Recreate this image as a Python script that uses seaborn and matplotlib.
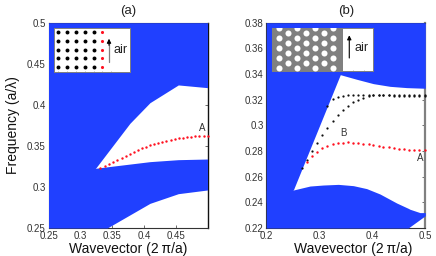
import matplotlib
matplotlib.use("Agg")
import matplotlib.pyplot as plt
import seaborn as sns

# panel (a) band edges
a_up_x = [0.25, 0.324, 0.378, 0.4095, 0.4541, 0.5]
a_up_low = [0.30, 0.3227, 0.3775, 0.4026, 0.4242, 0.4209]
a_low_x = [0.25, 0.324, 0.3423, 0.4095, 0.4541, 0.5]
a_low_top = [0.3227, 0.3227, 0.3245, 0.3308, 0.3332, 0.334]
a_low_bot = [0.25, 0.25, 0.25, 0.28, 0.2918, 0.2963]

a_red_x = [0.3313, 0.3381, 0.3449, 0.3518, 0.3581, 0.3649, 0.3712, 0.378, 0.3843, 0.3911, 0.3974, 0.4032, 0.4095, 0.4158,
           0.4226, 0.4289, 0.4352, 0.4421, 0.4484, 0.4552, 0.462, 0.4683, 0.4741, 0.4809, 0.4872, 0.494, 0.5]
a_red_y = [0.3235, 0.3255, 0.3284, 0.3308, 0.3332, 0.3357, 0.3381, 0.3405, 0.343, 0.345, 0.347, 0.3491, 0.3507, 0.3523,
           0.3535, 0.3552, 0.356, 0.3572, 0.358, 0.3592, 0.36, 0.3608, 0.3612, 0.3616, 0.3621, 0.3621, 0.3625]

# panel (b) band edges
b_up_x = [0.2, 0.251, 0.3396, 0.3706, 0.402, 0.4334, 0.4649, 0.5]
b_up_low = [0.24, 0.2496, 0.3395, 0.3359, 0.3325, 0.3304, 0.3294, 0.3289]
b_low_x = [0.2, 0.251, 0.2824, 0.3076, 0.3359, 0.3642, 0.3893, 0.4145, 0.4459, 0.4679, 0.4711, 0.4899, 0.5]
b_low_top = [0.2496, 0.2496, 0.2527, 0.2535, 0.254, 0.253, 0.2507, 0.2465, 0.2395, 0.2353, 0.2346, 0.232, 0.232]
b_low_bot = [0.22, 0.22, 0.22, 0.22, 0.22, 0.22, 0.22, 0.22, 0.22, 0.22, 0.221, 0.2266, 0.2296]

b_x = [0.267, 0.277, 0.286, 0.296, 0.306, 0.315, 0.325, 0.335, 0.344, 0.354, 0.364, 0.373, 0.383,
       0.393, 0.402, 0.412, 0.421, 0.431, 0.441, 0.45, 0.46, 0.47, 0.479, 0.489, 0.5]
b_black1 = [0.2665, 0.273, 0.2798, 0.286, 0.2925, 0.2982, 0.3034, 0.3081, 0.312, 0.3154, 0.318, 0.32, 0.3216,
            0.3226, 0.3234, 0.3237, 0.3239, 0.3239, 0.3239, 0.3239, 0.3239, 0.3239, 0.3239, 0.3239, 0.3239]
b_black2 = [0.3154, 0.3203, 0.3224, 0.3232, 0.3237, 0.3237, 0.3237, 0.3234, 0.3234, 0.3234, 0.3233, 0.3233, 0.3233,
            0.3232, 0.3232, 0.3232, 0.3232, 0.3232, 0.3232, 0.3232]
b_red = [0.2712, 0.2759, 0.2795, 0.2821, 0.2839, 0.2855, 0.2863, 0.2865, 0.2868, 0.2865, 0.2863, 0.2857,
         0.2852, 0.2844, 0.2839, 0.2834, 0.2829, 0.2824, 0.2818, 0.2813, 0.2811, 0.2808, 0.2805, 0.2805]

a_xticks = [0.25, 0.3, 0.35, 0.4, 0.45]
a_xlabels = ["0.25", "0.3", "0.35", "0.4", "0.45"]
a_yticks = [0.25, 0.3, 0.35, 0.4, 0.45, 0.5]
a_ylabels = ["0.25", "0.3", "0.35", "0.4", "0.45", "0.5"]
b_xticks = [0.2, 0.3, 0.4, 0.5]
b_xlabels = ["0.2", "0.3", "0.4", "0.5"]
b_yticks = [0.22, 0.24, 0.26, 0.28, 0.3, 0.32, 0.34, 0.36, 0.38]
b_ylabels = ["0.22", "0.24", "0.26", "0.28", "0.3", "0.32", "0.34", "0.36", "0.38"]

# lattice sites in the insets
ins_a_cols = [0, 1, 2, 3, 4]
ins_a_rows = [0, 1, 2, 3, 4]
ins_b_cols_even = [0, 2, 4, 6]
ins_b_rows_even = [0, 2, 4, 6, 8]
ins_b_cols_odd = [1, 3, 5]
ins_b_rows_odd = [1, 3, 5, 7]

BLUE = "#2040FF"
W, H = 436, 256

sns.set_theme(style="ticks")
plt.rcParams["font.family"] = ["Liberation Sans", "DejaVu Sans"]
plt.rcParams["axes.unicode_minus"] = False

fig = plt.figure(figsize=(W / 100, H / 100), dpi=100)


def box(x0, x1, y0, y1):
    # pixel box -> figure fractions
    return [x0 / W, 1 - y1 / H, (x1 - x0) / W, (y1 - y0) / H]


def style_main(ax, xlim, ylim, xt, xl, yt, yl, edge, edge_w):
    ax.set_xlim(xlim)
    ax.set_ylim(ylim)
    ax.set_xticks(xt, xl)
    ax.set_yticks(yt, yl)
    ax.tick_params(direction="in", length=2, width=0.5, labelsize=7, pad=2, color="#333333",
                   right=True, top=True, labelcolor="#333333")
    ax.tick_params(axis="x", pad=2.5)
    for s in ax.spines.values():
        s.set_linewidth(0.8)
        s.set_color("#333333")
        s.set_zorder(2)
    ax.spines["right"].set_color(edge)
    ax.spines["right"].set_linewidth(edge_w)


def dots(ax, x, y, color, size=3.0):
    sns.scatterplot(x=x, y=y, color=color, s=size, linewidth=0, ax=ax, zorder=5, clip_on=False)


ax1 = fig.add_axes(box(48.5, 207.5, 22.7, 228))
ax1.fill_between(a_up_x, a_up_low, 0.5, color=BLUE, linewidth=0, zorder=3)
ax1.fill_between(a_low_x, a_low_bot, a_low_top, color=BLUE, linewidth=0, zorder=3)
dots(ax1, a_red_x, a_red_y, "#FF1020")
style_main(ax1, (0.25, 0.5), (0.25, 0.5), a_xticks, a_xlabels, a_yticks, a_ylabels, "#111111", 1.0)
ax1.text(0.4914, 0.3722, "A", fontsize=7, ha="center", va="center", color="#333333", zorder=6)
ax1.set_title("(a)", fontsize=9.5, pad=6.5, color="#222222")
ax1.set_xlabel("Wavevector (2\u2009π/a)", fontsize=10, color="#111111")
ax1.xaxis.set_label_coords(0.5, -0.1)
ax1.xaxis.label.set_va("center")
ax1.set_ylabel("Frequency (a/λ)", fontsize=10, color="#111111")
ax1.yaxis.set_label_coords(-0.226, 0.5)
ax1.yaxis.label.set_va("center")

ax2 = fig.add_axes(box(266.3, 425.3, 22.7, 228))
ax2.fill_between(b_up_x, b_up_low, 0.38, color=BLUE, linewidth=0, zorder=3)
ax2.fill_between(b_low_x, b_low_bot, b_low_top, color=BLUE, linewidth=0, zorder=3)
dots(ax2, b_x, b_black1, "#111111", 2.6)
dots(ax2, b_x[5:], b_black2, "#111111", 2.6)
dots(ax2, b_x[1:], b_red, "#FF1020")
style_main(ax2, (0.2, 0.5), (0.22, 0.38), b_xticks, b_xlabels, b_yticks, b_ylabels, "#808080", 1.6)
ax2.text(0.4906, 0.2748, "A", fontsize=7, ha="center", va="center", color="#333333", zorder=6)
ax2.text(0.346, 0.294, "B", fontsize=7, ha="center", va="center", color="#333333", zorder=6)
ax2.set_title("(b)", fontsize=9.5, pad=6.5, color="#222222")
ax2.set_xlabel("Wavevector (2\u2009π/a)", fontsize=10, color="#111111")
ax2.xaxis.set_label_coords(0.545, -0.1)
ax2.xaxis.label.set_va("center")


def style_inset(ax):
    ax.set_zorder(10)
    ax.set_facecolor("white")
    ax.tick_params(direction="in", length=1, width=0.4, color="#777777", labelbottom=False, labelleft=False,
                   bottom=True, left=False)
    for s in ax.spines.values():
        s.set_linewidth(0.7)
        s.set_color("#808080")


# inset (a)
ins1 = fig.add_axes(box(54, 130.3, 28, 72))
ins1.set_xlim(-0.49, 8.18)
ins1.set_ylim(4.57, -0.49)
ins1.set_xticks([0, 1, 2, 3, 4, 5, 6])
ins1.set_yticks([])
sns.scatterplot(x=[c for c in ins_a_cols for r in ins_a_rows], y=[r for c in ins_a_cols for r in ins_a_rows],
                color="black", s=8, linewidth=0, ax=ins1, zorder=3)
sns.scatterplot(x=[5 for r in ins_a_rows], y=ins_a_rows, color="#FF1020", s=5, linewidth=0, ax=ins1, zorder=3)
ins1.plot([5.76, 5.76], [3.41, 1.2], color="#808080", lw=0.9)
ins1.annotate("", xy=(5.76, 0.74), xytext=(5.76, 1.5),
              arrowprops=dict(arrowstyle="-|>", color="black", lw=0.8, mutation_scale=6, shrinkA=0, shrinkB=0))
ins1.text(7.12, 2.03, "air", fontsize=9, ha="center", va="center", color="#222222")
style_inset(ins1)

# inset (b)
ins2 = fig.add_axes(box(272, 373.3, 27.7, 70.7))
ins2.set_xlim(-0.78, 10.48)
ins2.set_ylim(8.48, -0.12)
ins2.set_xticks([8.2, 9.4])
ins2.set_yticks([])
ins2.axvspan(-0.78, 7.14, color="#808080", linewidth=0, zorder=1)
sns.scatterplot(x=[c for c in ins_b_cols_even for r in ins_b_rows_even],
                y=[r for c in ins_b_cols_even for r in ins_b_rows_even],
                color="white", s=19, linewidth=0, ax=ins2, zorder=3)
sns.scatterplot(x=[c for c in ins_b_cols_odd for r in ins_b_rows_odd],
                y=[r for c in ins_b_cols_odd for r in ins_b_rows_odd],
                color="white", s=19, linewidth=0, ax=ins2, zorder=3)
ins2.annotate("", xy=(7.81, 1.4), xytext=(7.81, 5.94),
              arrowprops=dict(arrowstyle="-|>", color="black", lw=0.8, mutation_scale=6, shrinkA=0, shrinkB=0))
ins2.text(9.22, 3.94, "air", fontsize=9, ha="center", va="center", color="#222222")
style_inset(ins2)

fig.savefig("out.png", dpi=100)
